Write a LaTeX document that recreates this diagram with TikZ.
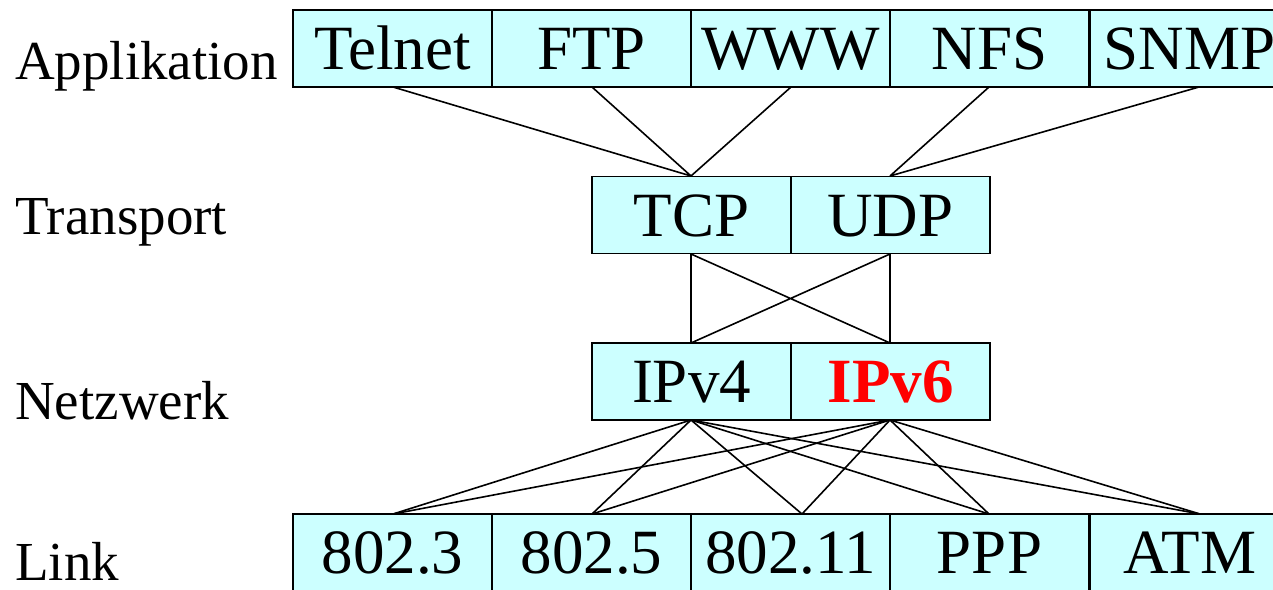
\documentclass[tikz,border=0pt]{standalone}
\usepackage{fontspec}
\setmainfont{Liberation Serif}
\definecolor{boxfill}{HTML}{CCFFFF}
\definecolor{ipred}{HTML}{FF0000}
\begin{document}
\begin{tikzpicture}[x=1pt,y=-1pt,
  layerbox/.style={draw=black,fill=boxfill,line width=1.8pt,minimum width=199pt,minimum height=77pt,inner sep=0pt,
     font=\fontsize{63}{70}\selectfont,text height=42pt,text depth=0pt},
  layerlabel/.style={anchor=base west,inner sep=0pt,font=\fontsize{55}{60}\selectfont},
  conn/.style={line width=1.6pt}]
\useasboundingbox (0,0) rectangle (1273,589);
\clip (0,0) rectangle (1273,589);
\fill[white] (0,0) rectangle (1273,589);
% labels
\node[layerlabel] (lapp) at (15,79) {Applikation};
\node[layerlabel] (ltr) at (15,234) {Transport};
\node[layerlabel] (lnw) at (15,419) {Netzwerk};
\node[layerlabel] (llk) at (15,580) {Link};
% connectors (drawn first, behind boxes)
\coordinate (a1) at (393,87);
\coordinate (a2) at (592,87);
\coordinate (a3) at (791,87);
\coordinate (a4) at (989,87);
\coordinate (a5) at (1199,87);
\coordinate (t1) at (691,176);
\coordinate (t2) at (890,176);
\coordinate (t1b) at (691,254);
\coordinate (t2b) at (890,254);
\coordinate (n1) at (691,343);
\coordinate (n2) at (890,343);
\coordinate (n1b) at (691,420);
\coordinate (n2b) at (890,420);
\coordinate (k1) at (393,514);
\coordinate (k2) at (592,514);
\coordinate (k3) at (802,514);
\coordinate (k4) at (989,514);
\coordinate (k5) at (1200,514);
\draw[conn] (a1) -- (t1) (a2) -- (t1) (a3) -- (t1);
\draw[conn] (a4) -- (t2) (a5) -- (t2);
\draw[conn] (t1b) -- (n1) (t2b) -- (n2) (t1b) -- (n2) (t2b) -- (n1);
\foreach \k in {k1,k2,k3,k4,k5}{
  \draw[conn] (n1b) -- (\k);
  \draw[conn] (n2b) -- (\k);
}
% application row
\node[layerbox] (app1) at (392.5,48.5) {Telnet};
\node[layerbox] (app2) at (591.5,48.5) {FTP};
\node[layerbox] (app3) at (790.5,48.5) {WWW};
\node[layerbox] (app4) at (989.5,48.5) {NFS};
\node[layerbox] (app5) at (1189.5,48.5) {SNMP};
% transport row
\node[layerbox] (tr1) at (691.5,215) {TCP};
\node[layerbox] (tr2) at (890.5,215) {UDP};
% network row
\node[layerbox] (nw1) at (691.5,381.5) {IPv4};
\node[layerbox,text=ipred,font=\fontsize{63}{70}\selectfont\bfseries] (nw2) at (890.5,381.5) {IPv6};
% link row
\node[layerbox] (lk1) at (392.5,552.5) {802.3};
\node[layerbox] (lk2) at (591.5,552.5) {802.5};
\node[layerbox] (lk3) at (790.5,552.5) {802.11};
\node[layerbox] (lk4) at (989.5,552.5) {PPP};
\node[layerbox] (lk5) at (1189.5,552.5) {ATM};
\end{tikzpicture}
\end{document}
